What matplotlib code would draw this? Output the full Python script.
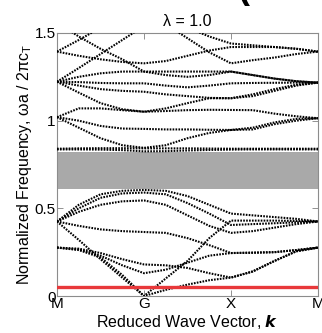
import matplotlib
matplotlib.use("Agg")
import matplotlib.pyplot as plt
import numpy as np

plt.rcParams['font.family'] = ['Liberation Sans', 'DejaVu Sans']

# k-path sample positions (M-G-X-M) and tick labels
k_points = [0, 0.25, 0.5, 0.75, 1, 1.25, 1.5, 1.75, 2, 2.25, 2.5, 2.75, 3]
tick_pos = [0, 1, 2, 3]
tick_labels = ["M", "G", "X", "M"]

# band frequencies (normalized) sampled at k_points
band_01 = [0.276, 0.262, 0.22, 0.12, 0.0, 0.035, 0.065, 0.09, 0.105, 0.14, 0.2, 0.255, 0.276]
band_02 = [0.425, 0.32, 0.21, 0.105, 0.0, 0.10, 0.20, 0.33, 0.43, 0.43, 0.43, 0.428, 0.425]
band_03 = [0.276, 0.265, 0.23, 0.175, 0.13, 0.15, 0.19, 0.23, 0.245, 0.247, 0.25, 0.262, 0.276]
band_04 = [0.276, 0.27, 0.245, 0.21, 0.18, 0.175, 0.16, 0.13, 0.105, 0.14, 0.2, 0.255, 0.276]
band_05 = [0.425, 0.40, 0.38, 0.37, 0.365, 0.36, 0.33, 0.29, 0.245, 0.247, 0.25, 0.262, 0.276]
band_06 = [0.425, 0.48, 0.52, 0.54, 0.545, 0.52, 0.46, 0.40, 0.36, 0.37, 0.39, 0.41, 0.425]
band_07 = [0.425, 0.50, 0.56, 0.585, 0.59, 0.58, 0.53, 0.47, 0.405, 0.41, 0.415, 0.42, 0.425]
band_08 = [0.425, 0.52, 0.58, 0.60, 0.605, 0.60, 0.57, 0.52, 0.47, 0.46, 0.45, 0.44, 0.425]
band_09 = [0.836, 0.836, 0.835, 0.832, 0.825, 0.826, 0.83, 0.833, 0.835, 0.836, 0.836, 0.836, 0.836]
band_10 = [0.84, 0.842, 0.843, 0.843, 0.842, 0.842, 0.842, 0.841, 0.84, 0.84, 0.84, 0.84, 0.84]
band_11 = [1.02, 0.96, 0.90, 0.86, 0.845, 0.86, 0.90, 0.93, 0.947, 0.96, 0.99, 1.01, 1.014]
band_12 = [1.02, 1.0, 0.97, 0.955, 0.953, 0.95, 0.95, 0.948, 0.947, 0.95, 0.98, 1.0, 1.014]
band_13 = [1.02, 1.07, 1.07, 1.06, 1.051, 1.055, 1.06, 1.062, 1.061, 1.06, 1.04, 1.025, 1.014]
band_14 = [1.222, 1.16, 1.10, 1.065, 1.051, 1.07, 1.10, 1.128, 1.128, 1.15, 1.18, 1.205, 1.217]
band_15 = [1.222, 1.20, 1.18, 1.17, 1.165, 1.15, 1.14, 1.13, 1.128, 1.14, 1.17, 1.20, 1.217]
band_16 = [1.222, 1.22, 1.215, 1.213, 1.213, 1.20, 1.19, 1.20, 1.213, 1.215, 1.216, 1.217, 1.217]
band_17 = [1.222, 1.25, 1.27, 1.28, 1.28, 1.28, 1.28, 1.28, 1.28, 1.26, 1.24, 1.225, 1.217]
band_18 = [1.394, 1.37, 1.35, 1.335, 1.327, 1.34, 1.37, 1.40, 1.42, 1.42, 1.42, 1.41, 1.394]
band_19 = [1.394, 1.46, 1.53, 1.58, 1.60, 1.55, 1.47, 1.39, 1.327, 1.345, 1.36, 1.38, 1.394]
band_20 = [1.222, 1.30, 1.38, 1.46, 1.54, 1.56, 1.53, 1.48, 1.44, 1.43, 1.42, 1.41, 1.394]
band_21 = [1.56, 1.48, 1.41, 1.35, 1.28, 1.26, 1.25, 1.26, 1.28, 1.26, 1.24, 1.225, 1.217]

bands = [band_01, band_02, band_03, band_04, band_05, band_06, band_07, band_08,
         band_09, band_10, band_11, band_12, band_13, band_14, band_15, band_16,
         band_17, band_18, band_19, band_20, band_21]

gap_low, gap_high = 0.61, 0.823
red_level = 0.05

fig = plt.figure(figsize=(3.22, 3.33), dpi=100)
ax = fig.add_axes([57/322, 1-296/333, (318-57)/322, (296-33)/333])

ax.axhspan(gap_low, gap_high, color='#a9a9a9', lw=0, zorder=1)
for b in bands:
    ax.plot(k_points, b, color='black', lw=1.5, ls=(0, (0.8, 0.6)), zorder=3)
ax.axhline(red_level, color='#e8383a', lw=2.4, zorder=4)

ax.set_xlim(0, 3)
ax.set_ylim(0, 1.5)
ax.set_xticks(tick_pos)
ax.set_xticklabels(tick_labels, fontsize=11)
ax.set_yticks([0, 0.5, 1, 1.5])
ax.set_yticklabels(["0", "0.5", "1", "1.5"], fontsize=11)
ax.tick_params(direction='in', length=4, width=0.6, color='0.5', top=True, right=True, pad=1)
for s in ax.spines.values():
    s.set_color('0.55')
    s.set_linewidth(0.8)

ax.set_title('λ = 1.0', fontsize=11.5, pad=5)
ax.set_xlabel(r'Reduced Wave Vector, $\boldsymbol{k}$', fontsize=11.5, labelpad=1)
ax.set_ylabel(r'Normalized Frequency, ωa / 2πc$_\mathregular{T}$', fontsize=11.5, labelpad=0)

# clipped fragment of a bold glyph at the top edge
fig.text(243/322, 1 + 12/333, "(", fontsize=26, fontweight='bold', ha='center', va='center')

fig.savefig('out.png', dpi=100)
